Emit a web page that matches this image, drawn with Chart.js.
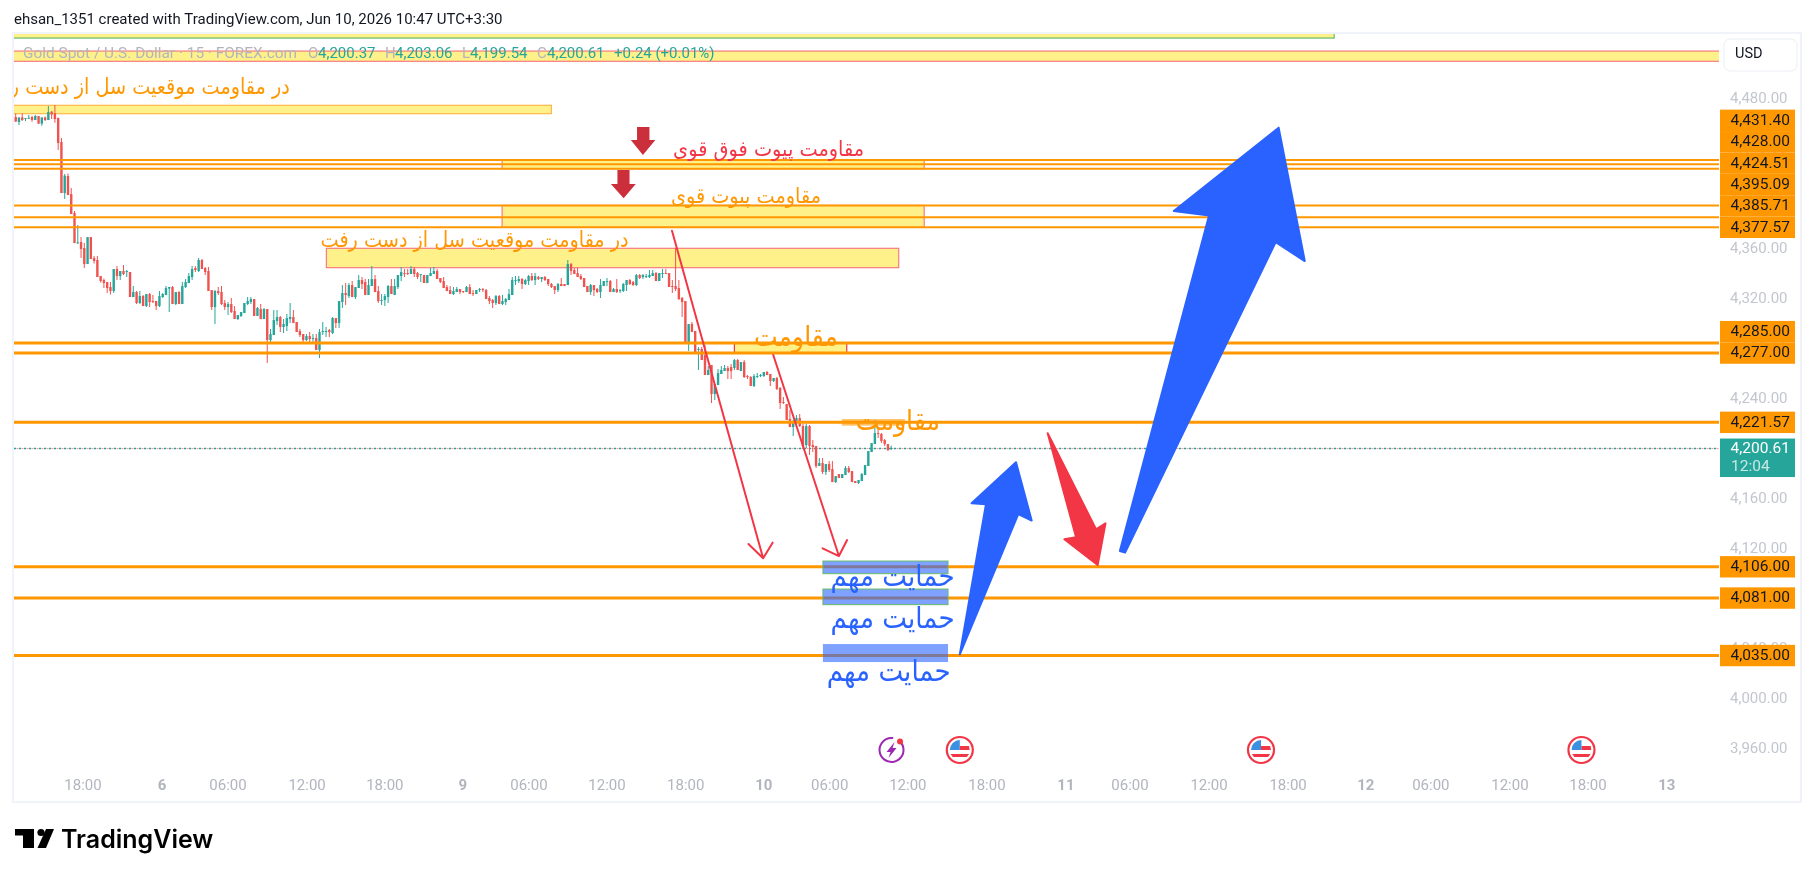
<!DOCTYPE html>
<html>
<head>
<meta charset="utf-8">
<title>Gold Spot</title>
<script src="https://cdn.jsdelivr.net/npm/chart.js@4/dist/chart.umd.js"></script>
<style>
html, body { margin: 0; padding: 0; background: #fff; }
canvas { display: block; }
</style>
</head>
<body>
<canvas id="c" width="1814" height="877"></canvas>
<script>
const opens = [4465.8,4461.8,4465.5,4464.2,4464.5,4465.8,4463.4,4466.6,4460.5,4465.5,
4463.4,4470.1,4468.7,4465,4445.8,4405,4418.6,4404.2,4389,4364.7,
4365.8,4361,4348.2,4369.8,4353,4351.4,4338.6,4335.4,4333.8,4329.8,
4326.6,4344.2,4338.6,4342.6,4341.8,4341.8,4321.8,4325.8,4317,
4322.6,4314.6,4324.2,4318.6,4318.6,4314.6,4321.8,4323.4,4328.5,4329.8,
4316.2,4325.8,4316.2,4329.8,4333,4337.8,4345,4342.6,4351.4,4345,
4342.6,4327.4,4313.8,4326.6,4325.8,4317,4313.8,4316.2,4310.6,4304.2,
4306.6,4309,4316.2,4317.8,4320.2,4306.6,4312.2,4304.2,4312.2,4287.4,
4291.4,4302.6,4305.8,4297.8,4298.6,4304.2,4305.8,4301.8,4294.6,4292.2,
4287.4,4290.6,4288.2,4289,4279.4,4293.8,4293.8,4295.4,4293,4305,
4301,4317.8,4325,4322.6,4331.4,4321.8,4329,4335.4,4333.8,4323.4,
4330.6,4336.2,4326.6,4318.6,4319.4,4321.8,4330.6,4323.4,4329.8,4338.6,
4341,4341,4340.2,4344.2,4341,4339.4,4339.4,4333,4338.6,4340.2,
4342.6,4337,4334.6,4329.8,4327.4,4324.2,4325.8,4328.2,4326.6,4325.8,
4329.8,4325,4324.2,4327.4,4328.2,4327.4,4321,4319.4,4317,4322.6,
4316.2,4317.8,4319.4,4323.4,4334.6,4334.6,4336.2,4332.2,4334.6,4338.6,
4335.4,4337.8,4336.2,4337.8,4336.2,4332.2,4330.6,4327.4,4332.2,4332.2,
4331.4,4348.2,4343.4,4341,4338.6,4337,4330.6,4325.8,4331.4,4328.2,
4325.8,4330.6,4333.8,4334.6,4325.8,4328.2,4326.6,4326.6,4331.4,4335.4,
4333.8,4331.4,4339.4,4337.8,4337.8,4337.8,4338.6,4341,4334.6,4340.2,
4341,4341,4330.6,4330.6,4329,4321,4318.6,4284.2,4300.2,4294.6,
4279.4,4280.2,4275.4,4259.4,4267.4,4244.2,4251.4,4260.2,4262.6,4265,
4265.8,4265,4271.4,4262.6,4269.8,4258.6,4257.8,4250.6,4257.8,4258.6,
4258.6,4261.8,4260.2,4254.6,4257,4249,4237.8,4236.2,4224.2,4217.8,
4221,4225,4218.6,4203.4,4218.6,4203.4,4202.6,4186.6,4189,4181.8,
4188.2,4184.2,4173.8,4180.2,4177,4179.4,4185,4182.6,4174.6,4173,
4174.6,4179.4,4186.6,4197.8,4204.2,4213,4212.2,4207.4,4204.2,4200.37];

const highs = [4468.7,4465.5,4468.7,4464.7,4467.4,4466.9,4467.4,4466.6,4465.5,4466.3,
4474.6,4470.6,4475.4,4465.5,4449,4420.2,4420.7,4409,4390.6,4379.4,
4369.8,4365,4369.8,4369.8,4354.6,4354.6,4338.6,4336.7,4333.8,4333.8,
4344.2,4346.6,4342.6,4347.4,4343.4,4341.8,4330.6,4326.6,4326.6,
4323.4,4324.2,4325,4323.4,4318.6,4326.6,4325,4330.6,4329.8,4330.6,
4325.8,4326.6,4333.8,4336.2,4341,4346.6,4346.6,4353,4352.2,4345.8,
4345.8,4327.4,4327.4,4329.8,4330.6,4319.4,4317.8,4321,4314.6,4307.4,
4309.8,4317,4321.8,4321.8,4320.2,4313.8,4316.2,4313,4312.2,4296.2,
4311.4,4311.4,4306.6,4304.2,4308.2,4317,4311.4,4301.8,4296.2,4292.2,
4292.2,4293.8,4292.2,4292.2,4296.2,4301.8,4297.8,4296.2,4305.8,4305,
4318.6,4331.4,4333,4333,4334.6,4329.8,4339.4,4337.8,4336.2,4336.2,
4346.6,4339.4,4330.6,4324.2,4324.2,4331.4,4336.2,4336.2,4339.4,4345.8,
4344.2,4344.2,4346.6,4345.8,4341.8,4340.2,4339.4,4339.4,4345,4345.8,
4344.2,4337,4337.8,4331.4,4330.6,4329.8,4329.8,4328.2,4326.6,4330.6,
4332.2,4327.4,4327.4,4329,4329,4328.2,4322.6,4320.2,4323.4,4323.4,
4323.4,4321,4328.2,4337.8,4338.6,4338.6,4337,4336.2,4339.4,4341,
4341,4338.6,4337.8,4338.6,4336.2,4333,4330.6,4333,4337,4332.2,
4351.4,4349,4345,4345,4340.2,4337,4330.6,4332.2,4331.4,4329,
4336.2,4334.6,4337,4335.4,4329,4336.2,4328.2,4333,4335.4,4336.2,
4334.6,4340.2,4340.2,4340.2,4340.2,4343.4,4343.4,4341.8,4341,4344.2,
4344.2,4341,4335.4,4361,4335.4,4321.8,4318.6,4300.2,4301.8,4294.6,
4281.8,4281.8,4283.4,4266.6,4267.4,4252.2,4264.2,4266.6,4267.4,4266.6,
4268.2,4272.2,4272.2,4269.8,4271.4,4259.4,4258.6,4260.2,4261,4260.2,
4261.8,4262.6,4260.2,4257,4257.8,4249.8,4241.8,4236.2,4231.4,4223.4,
4227.4,4228.2,4220.7,4220.6,4219.4,4207.4,4202.6,4193,4193,4188.2,
4190.6,4190.6,4178.6,4180.2,4180.2,4186.6,4186.6,4182.6,4174.6,4175.4,
4181,4187.4,4198.6,4205,4223.4,4217,4213,4208.2,4204.2,4203.06];

const lows = [4462.1,4459.4,4462.6,4462.6,4464.2,4462.1,4463.4,4460.2,4458.9,4462.6,
4463.4,4464.2,4461.3,4439.4,4405,4400.2,4403.4,4388.2,4365,4364.4,
4353,4345,4348.2,4352.2,4348.7,4337.8,4333.5,4329,4325,4323.9,
4325,4335.4,4335.4,4339.4,4337.8,4321.8,4321.8,4316.2,4316.2,
4314.6,4313.8,4313.8,4317,4311.4,4313.8,4321,4323.4,4309.8,4316.2,
4315.4,4316.2,4316.2,4329,4333,4335.4,4341.8,4341.8,4344.2,4339.4,
4326.6,4311.4,4300.2,4323.4,4315.4,4311.4,4307.4,4309,4304.2,4303.4,
4305.8,4309,4315.4,4316.2,4306.6,4306.6,4304.2,4304.2,4269,4285,
4291.4,4299.4,4293.8,4293,4294.6,4301,4301,4293.8,4289.8,4285.8,
4286.6,4285,4284.2,4279.4,4273,4291.4,4289.8,4289.8,4292.2,4297,
4297,4313,4315.4,4321,4321.8,4320.2,4329,4328.2,4323.4,4323.4,
4330.6,4325.8,4317,4315.4,4314.6,4317,4324.2,4323.4,4328.2,4334.6,
4337.8,4339.4,4340.2,4337.8,4336.2,4333.8,4333,4333,4338.6,4340.2,
4336.2,4333,4329,4326.6,4324.2,4323.4,4325.8,4324.2,4325,4325.8,
4324.2,4322.6,4324.2,4325.8,4325.8,4320.2,4316.2,4313,4315.4,4316.2,
4315.4,4315.4,4319.4,4323.4,4331.4,4333,4328.2,4331.4,4331.4,4334.6,
4331.4,4335.4,4333.8,4334.6,4330.6,4329,4324.2,4325.8,4330.6,4330.6,
4331.4,4339.4,4340.2,4337.8,4335.4,4329.8,4325.8,4323.4,4322.6,4325,
4321,4330.6,4330.6,4325.8,4325.8,4325,4325,4325.8,4326.6,4331.4,
4330.6,4330.6,4336.2,4336.2,4337,4337,4338.6,4334.6,4334.6,4337,
4340.2,4329.8,4325,4326.6,4319.4,4305.8,4284.2,4278.6,4293.8,4277,
4263.4,4271.4,4259.4,4259.4,4237,4239.4,4251.4,4260.2,4262.6,4256.2,
4256.2,4263.4,4263.4,4262.6,4257,4256.2,4250.6,4249.8,4257,4257.8,
4257.8,4259.4,4250.6,4253.8,4247.4,4232.2,4236.2,4223.4,4217.8,4210.6,
4218.6,4217.8,4200.2,4201,4195.4,4197.8,4185,4186.6,4180.2,4179.4,
4181.8,4173.8,4173,4177,4177,4179.4,4181,4173.8,4173,4172.2,
4174.6,4179.4,4186.6,4197.8,4204.2,4209,4205,4202.6,4198.6,4199.54];

const closes = [4462.1,4465.5,4463.4,4464.7,4465.3,4463.4,4466.6,4460.5,4465.5,4463.4,
4469.8,4467.9,4464.2,4445,4405,4418.9,4403.4,4388.2,4365,4365.5,
4360.2,4348.2,4369.8,4352.2,4350.6,4337.8,4334.6,4333,4329,4326.6,
4344.2,4338.6,4342.6,4340.2,4342.6,4321.8,4325.8,4317,4322.6,
4314.6,4324.2,4317.8,4317.8,4314.6,4322.6,4324.2,4329,4329.8,4316.2,
4325.8,4316.2,4330.6,4333.8,4338.6,4344.2,4343.4,4351.4,4344.2,4341.8,
4326.6,4313.8,4326.6,4325,4316.2,4313.8,4316.2,4309.8,4304.2,4307.4,
4309.8,4317,4318.6,4320.2,4306.6,4313,4304.2,4312.2,4287.4,4292.2,
4303.4,4305.8,4297.8,4300.2,4305,4305.8,4301,4293.8,4291.4,4287.4,
4290.6,4288.2,4288.8,4279.4,4293.8,4294.6,4294.6,4293.8,4305,4301,
4318.6,4325,4323.4,4331.4,4321.8,4329.8,4335.4,4332.2,4323.4,4331.4,
4336.2,4325.8,4318.6,4319.4,4322.6,4330.6,4324.2,4330.6,4339.4,4341.8,
4340.2,4340.2,4344.2,4340.2,4337.8,4340.2,4333,4339.4,4341,4342.6,
4336.2,4333.8,4329,4326.6,4324.2,4326.6,4328.2,4325.8,4325.8,4329.8,
4324.2,4324.2,4327.4,4328.2,4327.4,4320.2,4318.6,4317,4322.6,4316.2,
4318.6,4320.2,4324.2,4335.4,4335.4,4336.2,4332.2,4335.4,4338.6,4335.4,
4338.6,4336.2,4337.8,4335.4,4332.2,4329.8,4327.4,4332.2,4330.6,4330.6,
4348.2,4342.6,4340.2,4337.8,4336.2,4329.8,4325.8,4331.4,4327.4,4325.8,
4331.4,4334.6,4334.6,4325.8,4328.2,4325.8,4327.4,4332.2,4335.4,4332.2,
4331.4,4339.4,4337,4339.4,4338.6,4339.4,4341,4334.6,4341,4341,
4340.2,4329.8,4329.8,4328.2,4320.2,4317.8,4284.2,4300.2,4293.8,4277.8,
4280.2,4271.4,4259.4,4263.4,4244.2,4252.2,4261,4263.4,4265,4262.6,
4262.6,4271.4,4263.4,4269.8,4257.8,4257.8,4250.6,4258.6,4258.6,4259.4,
4261.8,4259.4,4254.6,4257,4248.2,4237,4237,4223.4,4217.8,4221.8,
4225,4218.6,4202.6,4218.6,4202.6,4201.8,4186.6,4189,4181.8,4188.2,
4183.4,4173.8,4178.6,4177,4180.2,4185,4181.8,4173.8,4173,4175.4,
4180.2,4187.4,4198.6,4205,4213,4212.2,4206.6,4204.2,4199.4,4200.61];

const levelPrices = [4431.40, 4428.00, 4424.51, 4395.09, 4385.71, 4377.57, 4285.00, 4277.00, 4221.57, 4106.00, 4081.00, 4035.00];
const lastPrice = 4200.61;
const countdown = '12:04';

const priceTicks = [4480, 4440, 4400, 4360, 4320, 4280, 4240, 4200, 4160, 4120, 4080, 4040, 4000, 3960];
const timeTickBars = [20.6, 44.8, 65, 89.2, 113, 136.9, 157.1, 181, 205.1, 229, 249.2, 273.1, 297.3, 321.5, 341.1, 365.3, 389.5, 413.3, 433.2, 457.4, 481.3, 505.4];
const timeTickLabels = ['18:00', '6', '06:00', '12:00', '18:00', '9', '06:00', '12:00', '18:00', '10', '06:00', '12:00', '18:00', '11', '06:00', '12:00', '18:00', '12', '06:00', '12:00', '18:00', '13'];

const flagBars = [289, 381.2, 479.3];
const newsBars = [268.1];

const headerText = 'ehsan_1351 created with TradingView.com, Jun 10, 2026 10:47 UTC+3:30';
const UP = '#26a69a', DOWN = '#ef5350', ORANGE = '#ff9800', BLUE = '#2962ff', RED = '#f23645';

// drawings anchored the way tradingview does it: bar index and price
const yellowBoxes = [
  [-1, 403.6, 4532.8, 4529, '#66bb6a'],
  [-1, 522, 4518.6, 4510.4, '#f77c80'],
  [-1, 164, 4475.2, 4468.5, '#ffb74d'],
  [148.9, 278.1, 4431.4, 4424.51, '#f77c80'],
  [148.9, 278.1, 4395.09, 4377.57, '#f77c80'],
  [95.1, 270.3, 4360.8, 4345.3, '#f77c80'],
  [220, 254.4, 4285, 4277.2, '#f23645']
];
const blueBoxes = [
  [247.1, 285.4, 4110.6, 4100.5, '#66bb6a'],
  [247.1, 285.4, 4088.2, 4075.7, '#66bb6a'],
  [247.1, 285.4, 4044.2, 4029.8, null]
];
// text, right edge bar, price, font size, colour, squeezed width
const noteTexts = [
  ['در مقاومت موقعیت سل از دست رفت', 83.9, 4489, 22, ORANGE, 308],
  ['در مقاومت موقعیت سل از دست رفت', 187.6, 4366.6, 22, ORANGE, 308],
  ['مقاومت پیوت فوق قوی', 259.7, 4439, 21, RED, 191],
  ['مقاومت پیوت قوی', 246.5, 4401.8, 21, ORANGE, 150],
  ['مقاومت', 251.7, 4288.4, 28, ORANGE, 84],
  ['مقاومت', 282.9, 4221.4, 28, ORANGE, 84],
  ['حمایت مهم', 287.4, 4097, 29, BLUE, 124],
  ['حمایت مهم', 287.4, 4063.4, 29, BLUE, 124],
  ['حمایت مهم', 286.2, 4021, 29, BLUE, 124]
];
const thinArrows = [
  [[200.9, 4374.9], [228.8, 4112.8], [224.3, 4124.2], [231.7, 4125.3]],
  [[231.9, 4275.4], [252, 4114.6], [247, 4120.8], [254.5, 4127.4]]
];
const bigArrows = [
  [BLUE, [[289, 4036], [297, 4156], [292.6, 4156.8], [306.2, 4189.6], [311, 4143], [306.9, 4148.2]]],
  [BLUE, [[338, 4118.6], [365.3, 4387.1], [354.5, 4390.6], [386.6, 4457.3], [394.6, 4350.6], [385.7, 4365.7], [339.6, 4117.4]]],
  [RED, [[315.9, 4212.8], [330.7, 4136], [333.6, 4140.8], [331.2, 4107.4], [321, 4128], [324.6, 4129.6]]]
];
const stubArrows = [
  [[190.2, 4457.8], [194, 4457.8], [194, 4447.4], [195.8, 4447.4], [192, 4435.4], [188.3, 4447.4], [190.2, 4447.4]],
  [[184.2, 4423.4], [187.9, 4423.4], [187.9, 4412.2], [189.8, 4412.2], [186.1, 4400.8], [182.2, 4412.2], [184.2, 4412.2]]
];

const barColors = closes.map((c, i) => c >= opens[i] ? UP : DOWN);
const fmt = v => v.toLocaleString('en-US', { minimumFractionDigits: 2, maximumFractionDigits: 2 });
const XMIN = -0.52, XMAX = 521.4;

function poly(ctx, pts) {
  ctx.beginPath();
  pts.forEach((p, i) => i ? ctx.lineTo(p[0], p[1]) : ctx.moveTo(p[0], p[1]));
  ctx.closePath();
}

function drawFlag(ctx, x, y) {
  ctx.save();
  ctx.beginPath(); ctx.arc(x, y, 13, 0, Math.PI * 2);
  ctx.fillStyle = '#fff'; ctx.fill();
  ctx.lineWidth = 2.2; ctx.strokeStyle = RED; ctx.stroke();
  ctx.beginPath(); ctx.arc(x, y, 10, 0, Math.PI * 2); ctx.clip();
  ctx.fillStyle = '#fff'; ctx.fillRect(x - 10, y - 10, 20, 20);
  ctx.fillStyle = RED;
  ctx.fillRect(x, y - 4, 10, 4);
  ctx.fillRect(x - 10, y + 4, 20, 3);
  ctx.fillStyle = '#3d8fe0'; ctx.fillRect(x - 10, y - 10, 10, 10);
  ctx.restore();
}

function drawNews(ctx, x, y) {
  ctx.save();
  ctx.strokeStyle = '#9c27b0'; ctx.lineWidth = 2;
  ctx.beginPath(); ctx.arc(x, y, 12, -0.9, Math.PI * 2 - 1.5); ctx.stroke();
  ctx.fillStyle = '#9c27b0';
  poly(ctx, [[x + 3, y - 8], [x - 5, y + 2], [x - 1, y + 2], [x - 3, y + 8], [x + 5, y - 2], [x + 1, y - 2]]);
  ctx.fill();
  ctx.fillStyle = RED;
  ctx.beginPath(); ctx.arc(x + 8.5, y - 8.5, 3, 0, Math.PI * 2); ctx.fill();
  ctx.restore();
}

function drawLogo(ctx) {
  ctx.save();
  ctx.fillStyle = '#000';
  ctx.fillRect(15, 829, 19, 6.5);
  ctx.fillRect(23, 829, 11, 19);
  ctx.beginPath(); ctx.arc(41, 832.5, 3.6, 0, Math.PI * 2); ctx.fill();
  poly(ctx, [[46, 829], [54, 829], [46, 848], [37.5, 848]]);
  ctx.fill();
  ctx.font = '600 25px Inter';
  ctx.textAlign = 'left'; ctx.textBaseline = 'middle';
  ctx.fillText('TradingView', 61, 840);
  ctx.restore();
}

const drawings = {
  id: 'drawings',
  beforeDraw(chart) {
    const ctx = chart.ctx;
    ctx.save();
    ctx.fillStyle = '#fff';
    ctx.fillRect(0, 0, chart.width, chart.height);
    ctx.strokeStyle = '#f0f3fa';
    ctx.lineWidth = 2;
    ctx.strokeRect(13, 33, 1788, 769);
    ctx.restore();
  },
  beforeDatasetsDraw(chart) {
    const { ctx, chartArea: a, scales: { x, y } } = chart;
    ctx.save();
    ctx.beginPath(); ctx.rect(a.left, a.top, a.width, a.height); ctx.clip();
    yellowBoxes.forEach(b => {
      const l = x.getPixelForValue(b[0]), r = x.getPixelForValue(b[1]);
      const t = y.getPixelForValue(b[2]), m = y.getPixelForValue(b[3]);
      ctx.fillStyle = '#fff18a';
      ctx.fillRect(l, t, r - l, m - t);
      ctx.strokeStyle = b[4];
      ctx.lineWidth = 1.2;
      ctx.strokeRect(l, t, r - l, m - t);
    });
    ctx.restore();
  },
  afterDatasetsDraw(chart) {
    const { ctx, chartArea: a, scales: { x, y } } = chart;
    const P = p => [x.getPixelForValue(p[0]), y.getPixelForValue(p[1])];
    ctx.save();
    ctx.beginPath(); ctx.rect(a.left, a.top, a.width, a.height); ctx.clip();

    // resistance band behind the last note
    ctx.fillStyle = 'rgba(255,152,0,0.6)';
    const bl = x.getPixelForValue(252.9), br = x.getPixelForValue(272.2);
    const bt = y.getPixelForValue(4224.2), bb = y.getPixelForValue(4218.9);
    ctx.fillRect(bl, bt, br - bl, bb - bt);

    blueBoxes.forEach(b => {
      const l = x.getPixelForValue(b[0]), r = x.getPixelForValue(b[1]);
      const t = y.getPixelForValue(b[2]), m = y.getPixelForValue(b[3]);
      ctx.fillStyle = 'rgba(41,98,255,0.6)';
      ctx.fillRect(l, t, r - l, m - t);
      if (b[4]) {
        ctx.strokeStyle = b[4];
        ctx.lineWidth = 1;
        ctx.strokeRect(l, t, r - l, m - t);
      }
    });

    ctx.direction = 'rtl';
    ctx.textAlign = 'right';
    ctx.textBaseline = 'middle';
    noteTexts.forEach(n => {
      ctx.font = n[3] + 'px "DejaVu Sans"';
      ctx.fillStyle = n[4];
      ctx.fillText(n[0], x.getPixelForValue(n[1]), y.getPixelForValue(n[2]), n[5]);
    });
    ctx.direction = 'ltr';

    ctx.strokeStyle = RED;
    ctx.lineWidth = 2;
    ctx.lineCap = 'round';
    ctx.lineJoin = 'round';
    thinArrows.forEach(ar => {
      const [s, tip, b1, b2] = ar.map(P);
      ctx.beginPath();
      ctx.moveTo(s[0], s[1]); ctx.lineTo(tip[0], tip[1]);
      ctx.moveTo(b1[0], b1[1]); ctx.lineTo(tip[0], tip[1]); ctx.lineTo(b2[0], b2[1]);
      ctx.stroke();
    });
    bigArrows.forEach(ar => {
      ctx.fillStyle = ar[0];
      ctx.strokeStyle = ar[0];
      ctx.lineWidth = 2;
      poly(ctx, ar[1].map(P));
      ctx.fill();
      ctx.stroke();
    });
    ctx.fillStyle = '#cc2f3c';
    stubArrows.forEach(ar => { poly(ctx, ar.map(P)); ctx.fill(); });

    flagBars.forEach(b => drawFlag(ctx, x.getPixelForValue(b), 750));
    newsBars.forEach(b => drawNews(ctx, x.getPixelForValue(b), 750));
    ctx.restore();
  },
  afterDraw(chart) {
    const { ctx, scales: { y } } = chart;
    ctx.save();
    ctx.textBaseline = 'middle';

    // symbol line
    ctx.font = '15.4px Roboto';
    ctx.textAlign = 'left';
    ctx.fillStyle = '#b2b5be';
    ctx.fillText('Gold Spot / U.S. Dollar · 15 · FOREX.com', 23, 54.5);
    ctx.font = '15px Roboto';
    [['O', 308], ['H', 385], ['L', 462], ['C', 537]].forEach(t => ctx.fillText(t[0], t[1], 54.5));
    ctx.fillStyle = UP;
    [[fmt(opens[268]), 318], [fmt(highs[268]), 395], [fmt(lows[268]), 470], [fmt(closes[268]), 547], ['+0.24 (+0.01%)', 614]]
      .forEach(t => ctx.fillText(t[0], t[1], 54.5));

    // USD button
    ctx.beginPath();
    ctx.roundRect(1724, 39, 73, 32, 6);
    ctx.fillStyle = '#fff'; ctx.fill();
    ctx.strokeStyle = '#eceef3'; ctx.lineWidth = 1; ctx.stroke();
    ctx.fillStyle = '#131722';
    ctx.font = '14.5px Roboto';
    ctx.fillText('USD', 1735, 54.5);

    // price tags, pushed up when they would overlap
    ctx.font = '15.5px Roboto';
    ctx.textAlign = 'right';
    const h = 21.4;
    let prev = Infinity;
    levelPrices.slice().sort((a, b) => a - b).forEach(p => {
      const ly = Math.min(y.getPixelForValue(p), prev - h);
      prev = ly;
      ctx.fillStyle = ORANGE;
      ctx.fillRect(1720, ly - h / 2, 75, h);
      ctx.fillStyle = '#131722';
      ctx.fillText(fmt(p), 1790, ly + 0.5);
    });
    const ty = y.getPixelForValue(lastPrice);
    ctx.fillStyle = UP;
    ctx.fillRect(1720, ty - 10, 75, 38.5);
    ctx.fillStyle = '#fff';
    ctx.fillText(fmt(lastPrice), 1790, ty + 0.5);
    ctx.textAlign = 'left';
    ctx.globalAlpha = 0.75;
    ctx.fillText(countdown, 1731, ty + 18.5);
    ctx.restore();

    drawLogo(ctx);
  }
};

const levelSets = levelPrices.map((p, i) => ({
  type: 'line',
  data: [{ x: XMIN, y: p }, { x: XMAX, y: p }],
  borderColor: ORANGE,
  borderWidth: i < 6 ? 2 : 3,
  pointRadius: 0,
  order: 0
}));

new Chart(document.getElementById('c'), {
  type: 'bar',
  plugins: [drawings],
  data: {
    datasets: [
      ...levelSets,
      {
        data: closes.map((c, i) => ({ x: i, y: [opens[i], c] })),
        backgroundColor: barColors,
        barThickness: 2.4,
        minBarLength: 1,
        grouped: false,
        inflateAmount: 0,
        order: 1
      },
      {
        data: closes.map((c, i) => ({ x: i, y: [lows[i], highs[i]] })),
        backgroundColor: barColors,
        barThickness: 1,
        grouped: false,
        inflateAmount: 0,
        order: 2
      },
      {
        type: 'line',
        data: [{ x: XMIN, y: lastPrice }, { x: XMAX, y: lastPrice }],
        borderColor: UP,
        borderWidth: 1.4,
        borderDash: [2, 3],
        pointRadius: 0,
        order: 3
      },
      {
        type: 'line',
        data: [{ x: XMIN, y: lastPrice }, { x: XMAX, y: lastPrice }],
        borderColor: 'rgba(242,54,69,0.55)',
        borderWidth: 1,
        borderDash: [2, 3],
        borderDashOffset: 2.5,
        pointRadius: 0,
        order: 3
      }
    ]
  },
  options: {
    responsive: false,
    animation: false,
    events: [],
    layout: { padding: { left: 14, right: 13, top: 0, bottom: 75 } },
    plugins: {
      legend: { display: false },
      tooltip: { enabled: false },
      title: {
        display: true,
        text: headerText,
        align: 'start',
        color: '#131722',
        font: { family: 'Roboto', size: 15, weight: 'normal', lineHeight: 1.2 },
        padding: { top: 11, bottom: 5 }
      }
    },
    scales: {
      x: {
        type: 'linear',
        min: XMIN,
        max: XMAX,
        offset: false,
        grid: { display: false, drawTicks: false },
        border: { display: false },
        afterBuildTicks: s => { s.ticks = timeTickBars.map(v => ({ value: v })); },
        afterFit: s => { s.height = 32; },
        ticks: {
          autoSkip: false,
          maxRotation: 0,
          padding: 7.5,
          color: '#b2b5be',
          font: c => {
            const t = timeTickLabels[c.index];
            return { family: 'Roboto', size: 15, weight: t && !t.includes(':') ? 'bold' : 'normal' };
          },
          callback: (v, i) => timeTickLabels[i]
        }
      },
      y: {
        position: 'right',
        min: 3943.44,
        max: 4532.24,
        grid: { display: false, drawTicks: false },
        border: { display: false },
        afterBuildTicks: s => { s.ticks = priceTicks.map(v => ({ value: v })); },
        afterFit: s => { s.width = 82; },
        ticks: {
          autoSkip: false,
          padding: 11,
          color: '#c3c6ce',
          font: { family: 'Roboto', size: 15 },
          callback: v => fmt(v)
        }
      }
    }
  }
});
</script>
</body>
</html>
